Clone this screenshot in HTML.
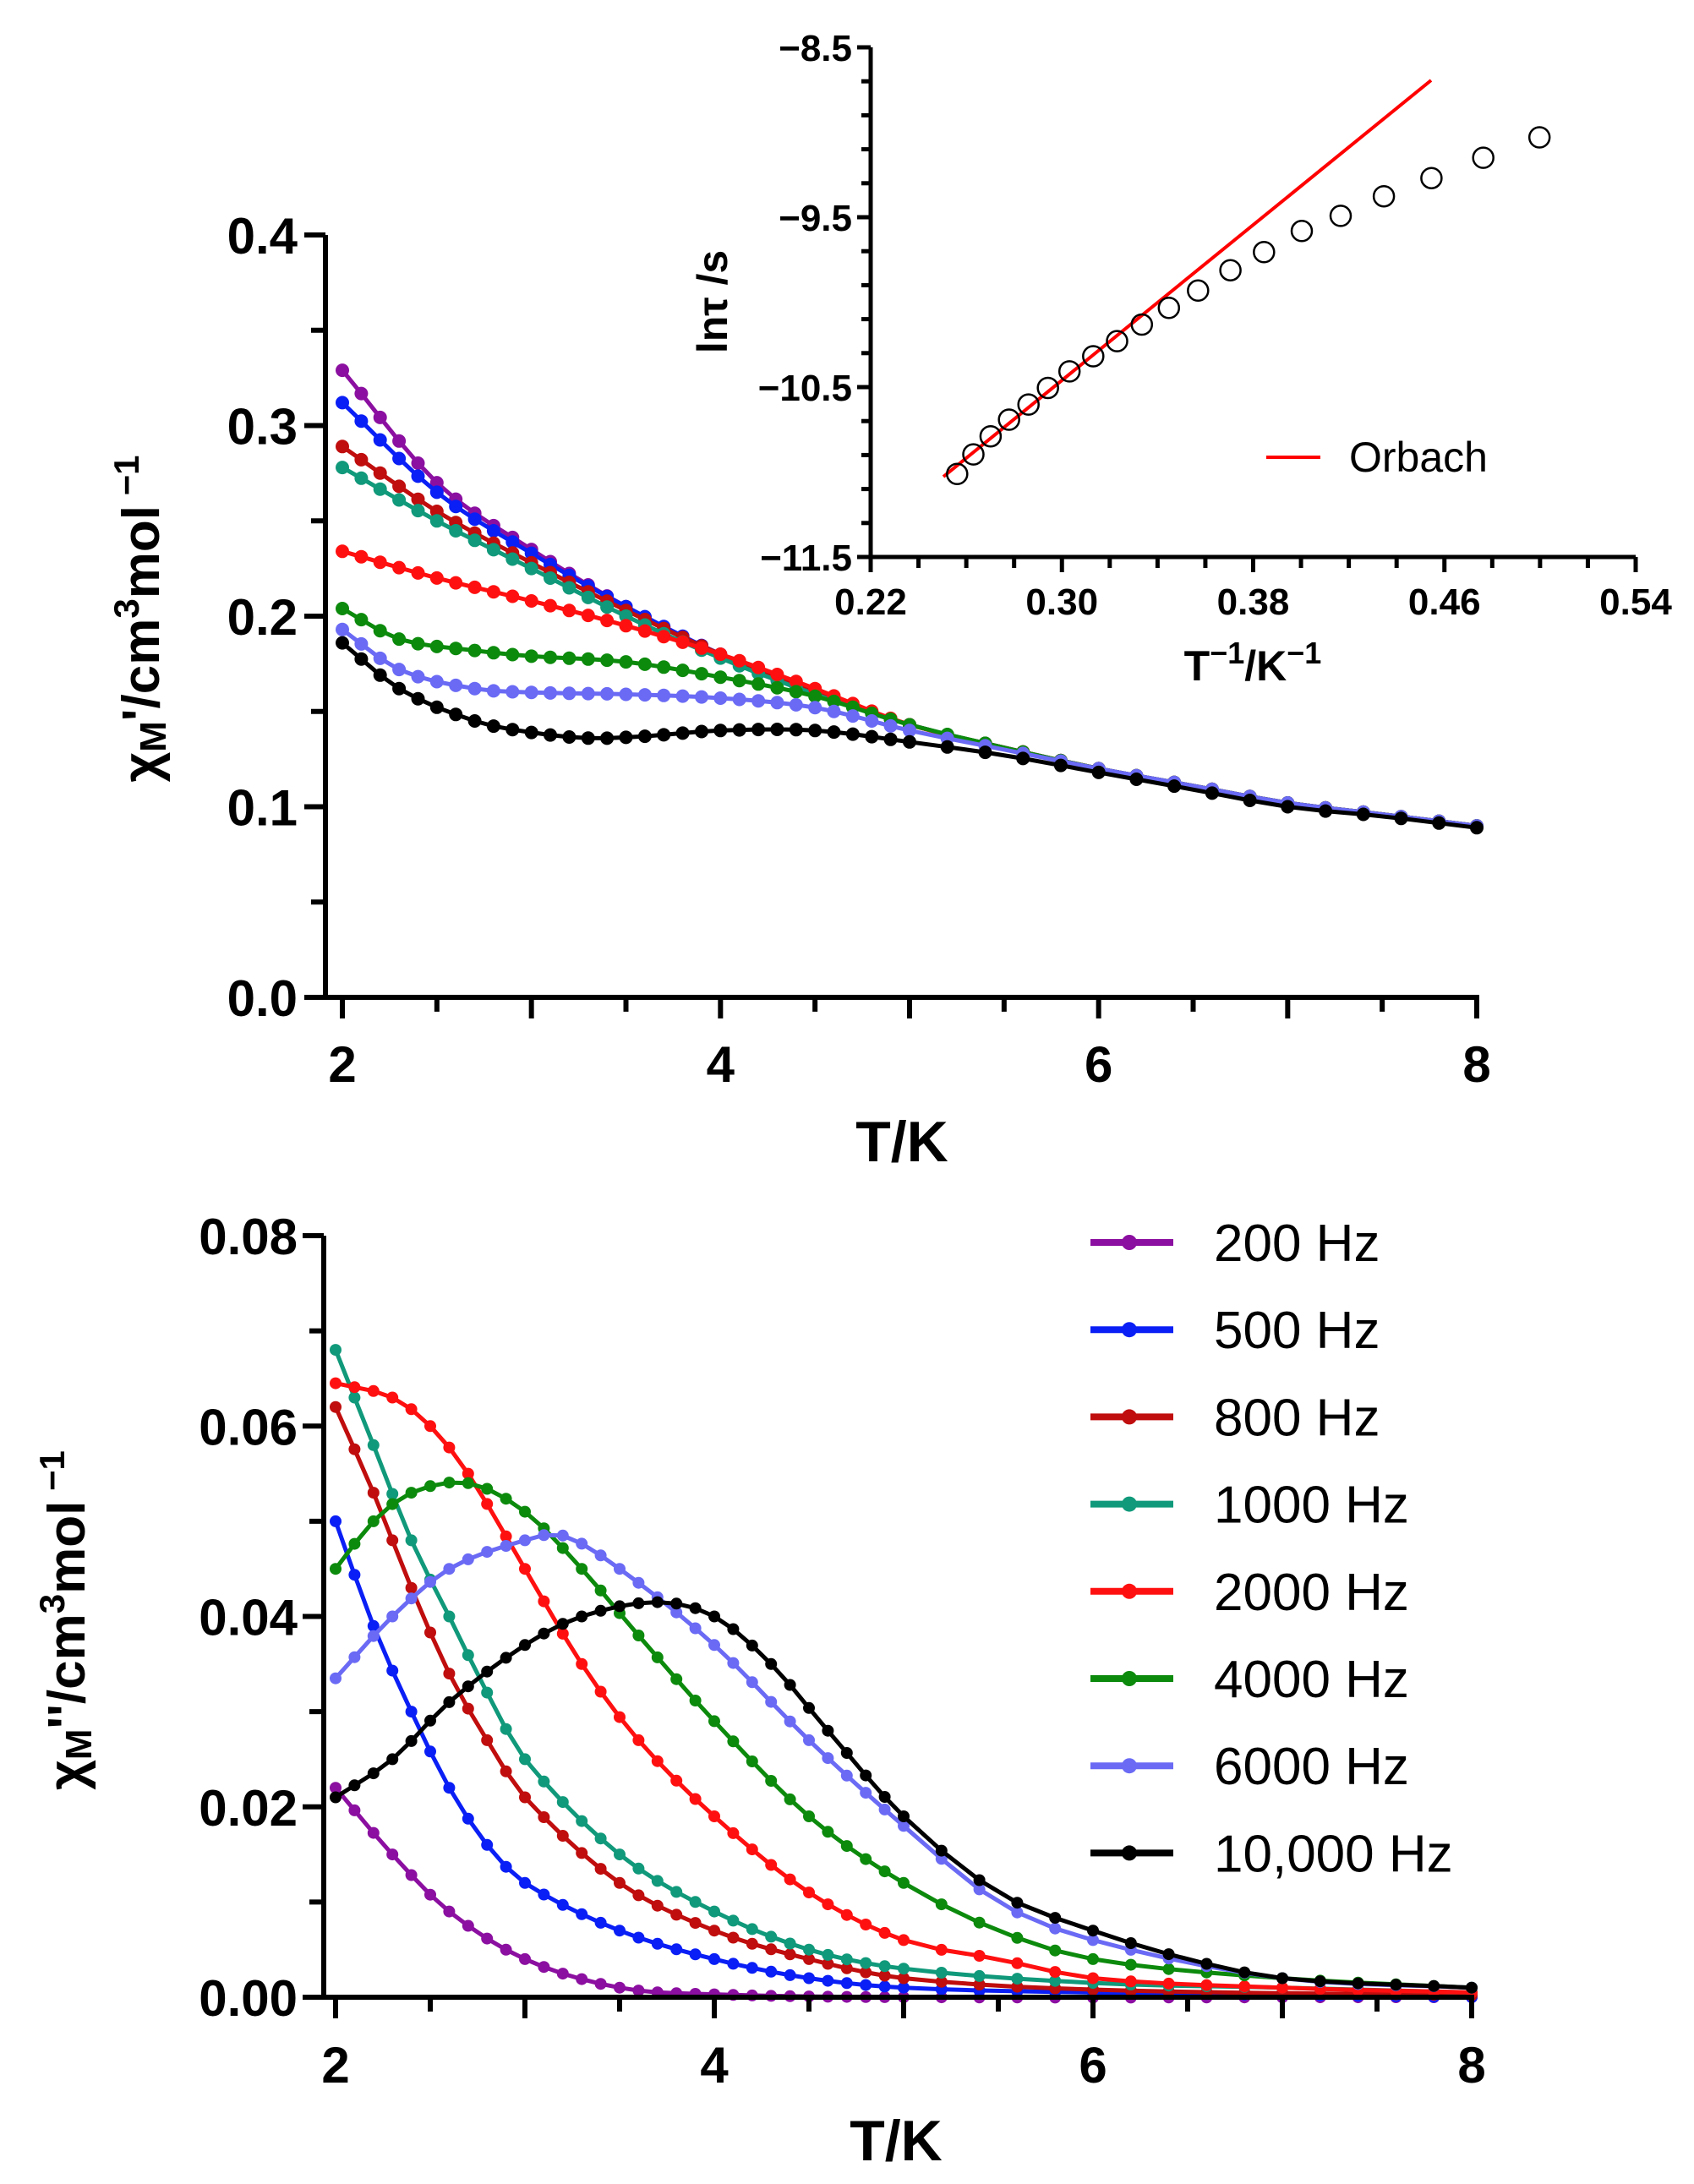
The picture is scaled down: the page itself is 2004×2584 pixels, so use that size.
<!DOCTYPE html>
<html><head><meta charset="utf-8"><style>
html,body{margin:0;padding:0;background:#fff;}
svg{display:block;font-family:"Liberation Sans",Arial,sans-serif;}
</style></head><body>
<svg id="s" width="2004" height="2584" viewBox="0 0 2004 2584" xmlns="http://www.w3.org/2000/svg"></svg>
<script>
(function(){
const S=document.getElementById('s');let out='';
function add(t){out+=t;}
function interp(pts,x){
  let i=0;while(i<pts.length-2&&x>pts[i+1][0])i++;
  const p1=pts[i],p2=pts[i+1],p0=pts[i-1]||p1,p3=pts[i+2]||p2;
  const t=(x-p1[0])/(p2[0]-p1[0]);
  const m1=(p2[1]-p0[1])/(p2[0]-p0[0])*(p2[0]-p1[0]);
  const m2=(p3[1]-p1[1])/(p3[0]-p1[0])*(p2[0]-p1[0]);
  const t2=t*t,t3=t2*t;
  return (2*t3-3*t2+1)*p1[1]+(t3-2*t2+t)*m1+(-2*t3+3*t2)*p2[1]+(t3-t2)*m2;
}
function xs(){const a=[];for(let i=0;i<=30;i++)a.push(2+i*0.1);for(let i=1;i<=15;i++)a.push(5+i*0.2);return a;}
function series(pts,col,X,Y,r,w){
  const a=xs();let d='';let c='';
  a.forEach((x,i)=>{const px=X(x),py=Y(interp(pts,x));d+=(i?'L':'M')+px.toFixed(1)+' '+py.toFixed(1);c+=`<circle cx="${px.toFixed(1)}" cy="${py.toFixed(1)}" r="${r}" fill="${col}"/>`;});
  add(`<path d="${d}" fill="none" stroke="${col}" stroke-width="${w}"/>`+c);
}
const cols={p:'#8b0fa0',b:'#0a1ff5',dr:'#c00d0d',t:'#10997a',r:'#ff1010',g:'#0c8a0c',lb:'#6a6af5',k:'#000'};
const TX=x=>405+(x-2)*(1747-405)/6, TY=y=>1180-y*(1180-278)/0.4;
const tail=[[5,0.143],[5.5,0.131],[6,0.12],[6.5,0.111],[7,0.102],[7.5,0.096],[8,0.09]];
const topData={
 p:[[2,0.329],[2.5,0.27],[3,0.235],[3.5,0.205],[4,0.18],[4.5,0.16]].concat(tail),
 b:[[2,0.312],[2.5,0.265],[3,0.233],[3.5,0.205],[4,0.18],[4.5,0.16]].concat(tail),
 dr:[[2,0.289],[2.5,0.255],[3,0.228],[3.5,0.203],[4,0.18],[4.5,0.16]].concat(tail),
 t:[[2,0.278],[2.5,0.25],[3,0.225],[3.5,0.2],[4,0.178],[4.5,0.159]].concat(tail),
 r:[[2,0.234],[2.5,0.22],[3,0.208],[3.5,0.195],[4,0.18],[4.5,0.162]].concat(tail),
 g:[[2,0.204],[2.3,0.188],[2.7,0.182],[3,0.179],[3.5,0.176],[4,0.168],[4.5,0.158]].concat(tail),
 lb:[[2,0.193],[2.3,0.172],[2.7,0.162],[3,0.16],[3.5,0.159],[4,0.157],[4.5,0.152],[5,0.14],[5.5,0.13],[6,0.12],[6.5,0.111],[7,0.102],[7.5,0.096],[8,0.09]],
 k:[[2,0.186],[2.3,0.162],[2.7,0.145],[3,0.139],[3.3,0.136],[3.6,0.137],[4,0.14],[4.5,0.14],[5,0.134],[5.5,0.127],[6,0.118],[6.5,0.109],[7,0.1],[7.5,0.095],[8,0.089]]};
['p','b','dr','t','r','g','lb','k'].forEach(k=>series(topData[k],cols[k],TX,TY,8,5));
add(`<path d="M385 278V1180H1750" fill="none" stroke="#000" stroke-width="6"/>`);
for(let i=0;i<=8;i++){const y=TY(i*0.05);add(`<line x1="${i%2?368:360}" x2="385" y1="${y}" y2="${y}" stroke="#000" stroke-width="6"/>`);}
for(let i=0;i<=12;i++){const x=TX(2+i*0.5);add(`<line x1="${x}" x2="${x}" y1="1180" y2="${i%2?1197:1205}" stroke="#000" stroke-width="6"/>`);}
['0.0','0.1','0.2','0.3','0.4'].forEach((t,i)=>add(`<text x="352" y="${TY(i*0.1)+22}" text-anchor="end" font-size="60" font-weight="bold">${t}</text>`));
[2,4,6,8].forEach(v=>add(`<text x="${TX(v)}" y="1280" text-anchor="middle" font-size="60" font-weight="bold">${v}</text>`));
add(`<text x="1067" y="1374" text-anchor="middle" font-size="68" font-weight="bold">T/K</text>`);
add(`<text transform="translate(188 732) rotate(-90)" text-anchor="middle" font-size="62" font-weight="bold">χ<tspan font-size="44" dy="8">M</tspan><tspan dy="-8">'/cm</tspan><tspan font-size="42" dy="-24">3</tspan><tspan dy="24">mol</tspan><tspan font-size="42" dy="-24"> −1</tspan></text>`);
const IX=x=>1030+(x-0.22)*(1935-1030)/0.32, IY=y=>56+(-8.5-y)*(659-56)/3;
add(`<path d="M1030 56V659H1935" fill="none" stroke="#000" stroke-width="5"/>`);
for(let i=0;i<=15;i++){const y=IY(-8.5-i*0.2);add(`<line x1="${i%5==0?1014:1019}" x2="1030" y1="${y}" y2="${y}" stroke="#000" stroke-width="5"/>`);}
for(let i=0;i<=16;i++){const x=IX(0.22+i*0.02);add(`<line x1="${x}" x2="${x}" y1="659" y2="${i%4==0?677:672}" stroke="#000" stroke-width="5"/>`);}
['−8.5','−9.5','−10.5','−11.5'].forEach((t,i)=>add(`<text x="1008" y="${IY(-8.5-i)+16}" text-anchor="end" font-size="44" font-weight="bold">${t}</text>`));
['0.22','0.30','0.38','0.46','0.54'].forEach((t,i)=>add(`<text x="${IX(0.22+i*0.08)}" y="727" text-anchor="middle" font-size="44" font-weight="bold">${t}</text>`));
add(`<text x="1482" y="805" text-anchor="middle" font-size="50" font-weight="bold">T<tspan font-size="36" dy="-20">−1</tspan><tspan dy="20">/K</tspan><tspan font-size="36" dy="-20">−1</tspan></text>`);
add(`<text transform="translate(860 357) rotate(-90)" text-anchor="middle" font-size="50" font-weight="bold">lnτ /s</text>`);
add(`<line x1="1116" y1="564" x2="1693" y2="95" stroke="#ff0000" stroke-width="4"/>`);
[[886,628],[901,602],[917,578],[934,556],[952,536],[970,514],[990,492],[1012,472],[1034,452],[1057,430],[1082,408],[1109,385],[1139,358],[1170,334],[1205,306],[1241,286],[1281,260],[1325,236],[1373,209],[1425,182]].forEach(([x,y])=>add(`<circle cx="${(x*1.278).toFixed(1)}" cy="${(y*0.893).toFixed(1)}" r="12" fill="none" stroke="#000" stroke-width="2.5"/>`));
add(`<line x1="1498" x2="1562" y1="541" y2="541" stroke="#ff0000" stroke-width="4"/>`);
add(`<text x="1596" y="558" font-size="50">Orbach</text>`);
const BX=x=>397+(x-2)*(1741-397)/6, BY=y=>2363-y*(2363-1462)/0.08;
const botData={
 p:[[2,0.022],[2.3,0.015],[2.6,0.009],[3,0.004],[3.5,0.001],[4,0.0003],[5,0],[8,0]],
 b:[[2,0.050],[2.2,0.039],[2.4,0.03],[2.6,0.022],[2.8,0.016],[3,0.012],[3.5,0.007],[4,0.004],[4.5,0.002],[5,0.001],[6,0.0005],[8,0]],
 dr:[[2,0.062],[2.2,0.053],[2.4,0.043],[2.6,0.034],[2.8,0.027],[3,0.021],[3.5,0.012],[4,0.007],[4.5,0.004],[5,0.002],[6,0.0008],[8,0.0002]],
 t:[[2,0.068],[2.2,0.058],[2.4,0.048],[2.6,0.040],[2.8,0.032],[3,0.025],[3.5,0.015],[4,0.009],[4.5,0.005],[5,0.003],[6,0.0015],[7,0.001],[8,0.0005]],
 r:[[2,0.0645],[2.3,0.063],[2.5,0.060],[2.7,0.055],[3,0.045],[3.3,0.035],[3.6,0.027],[4,0.019],[4.5,0.011],[5,0.006],[5.5,0.004],[6,0.002],[7,0.001],[8,0.0005]],
 g:[[2,0.045],[2.2,0.050],[2.4,0.053],[2.7,0.054],[3,0.051],[3.3,0.045],[3.6,0.038],[4,0.029],[4.5,0.019],[5,0.012],[5.5,0.007],[6,0.004],[7,0.002],[8,0.001]],
 lb:[[2,0.0335],[2.3,0.040],[2.6,0.045],[3,0.048],[3.2,0.0485],[3.5,0.045],[4,0.037],[4.5,0.027],[5,0.018],[5.5,0.010],[6,0.006],[7,0.002],[8,0.001]],
 k:[[2,0.021],[2.3,0.025],[2.6,0.031],[3,0.037],[3.3,0.040],[3.7,0.0415],[4,0.040],[4.3,0.035],[4.6,0.028],[5,0.019],[5.5,0.011],[6,0.007],[6.5,0.004],[7,0.002],[8,0.001]]};
['p','b','dr','t','r','g','lb','k'].forEach(k=>series(botData[k],cols[k],BX,BY,7,5));
add(`<path d="M383 1462V2363H1744" fill="none" stroke="#000" stroke-width="6"/>`);
for(let i=0;i<=8;i++){const y=BY(i*0.01);add(`<line x1="${i%2?366:358}" x2="383" y1="${y}" y2="${y}" stroke="#000" stroke-width="6"/>`);}
for(let i=0;i<=12;i++){const x=BX(2+i*0.5);add(`<line x1="${x}" x2="${x}" y1="2363" y2="${i%2?2380:2388}" stroke="#000" stroke-width="6"/>`);}
['0.00','0.02','0.04','0.06','0.08'].forEach((t,i)=>add(`<text x="352" y="${BY(i*0.02)+22}" text-anchor="end" font-size="60" font-weight="bold">${t}</text>`));
[2,4,6,8].forEach(v=>add(`<text x="${BX(v)}" y="2464" text-anchor="middle" font-size="60" font-weight="bold">${v}</text>`));
add(`<text x="1060" y="2556" text-anchor="middle" font-size="68" font-weight="bold">T/K</text>`);
add(`<text transform="translate(100 1917) rotate(-90)" text-anchor="middle" font-size="62" font-weight="bold">χ<tspan font-size="44" dy="8">M</tspan><tspan dy="-8">''/cm</tspan><tspan font-size="42" dy="-24">3</tspan><tspan dy="24">mol</tspan><tspan font-size="42" dy="-24"> −1</tspan></text>`);
const labs=['200 Hz','500 Hz','800 Hz','1000 Hz','2000 Hz','4000 Hz','6000 Hz','10,000 Hz'];
['p','b','dr','t','r','g','lb','k'].forEach((k,i)=>{const y=1470+i*103.2;
 add(`<line x1="1290" x2="1388" y1="${y}" y2="${y}" stroke="${cols[k]}" stroke-width="8"/><circle cx="1336" cy="${y}" r="9" fill="${cols[k]}"/><text x="1436" y="${y+22}" font-size="62">${labs[i]}</text>`);});
S.innerHTML=out;
})();
</script>
</body></html>
